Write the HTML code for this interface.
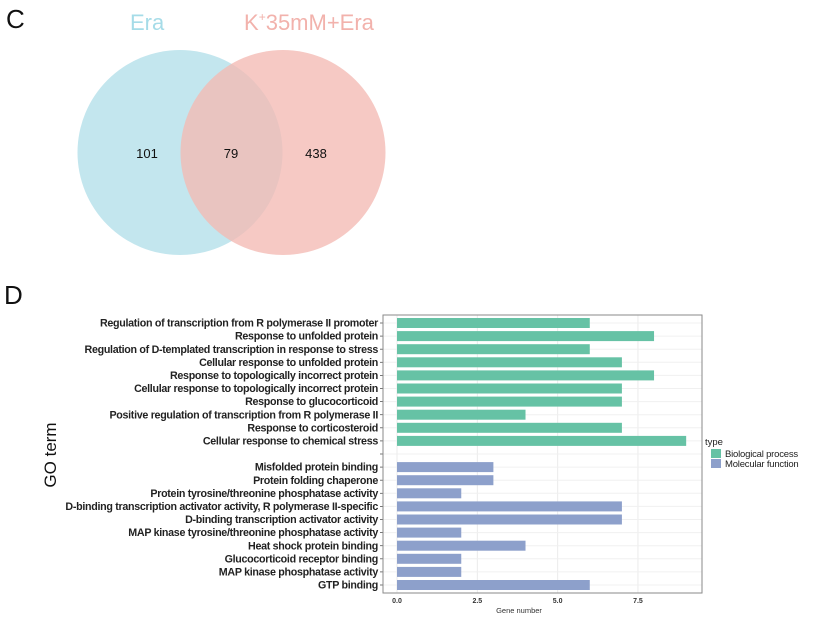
<!DOCTYPE html>
<html><head><meta charset="utf-8"><style>
html,body{margin:0;padding:0;background:#fff;}
svg{display:block;font-family:"Liberation Sans",Arial,sans-serif;}
</style></head><body>
<svg id="fig" width="814" height="619" viewBox="0 0 814 619" xmlns="http://www.w3.org/2000/svg">
  <g>
    <text x="6" y="28" font-size="26" fill="#111">C</text>
    <text x="130" y="30" font-size="22" fill="#a6dce8">Era</text>
    <text x="244" y="30" font-size="22" fill="#f2b2ac">K<tspan font-size="12" dy="-9">+</tspan><tspan dy="9">35mM+Era</tspan></text>
    <circle cx="180" cy="152.5" r="102.5" fill="#c3e6ee"/>
    <circle cx="283" cy="152.5" r="102.5" fill="#f4bab4" fill-opacity="0.78"/>
    <text x="147" y="158" font-size="13" text-anchor="middle" fill="#111">101</text>
    <text x="231" y="158" font-size="13" text-anchor="middle" fill="#111">79</text>
    <text x="316" y="158" font-size="13" text-anchor="middle" fill="#111">438</text>
  </g>
  <g>
    <text x="4" y="304" font-size="26" fill="#111">D</text>
    <text transform="translate(56,455) rotate(-90)" font-size="17" text-anchor="middle" fill="#111">GO term</text>
    <g id="plot"></g>
  </g>
</svg>
<script>
const bpTerms = ["Regulation of transcription from R polymerase II promoter","Response to unfolded protein","Regulation of D-templated transcription in response to stress","Cellular response to unfolded protein","Response to topologically incorrect protein","Cellular response to topologically incorrect protein","Response to glucocorticoid","Positive regulation of transcription from R polymerase II","Response to corticosteroid","Cellular response to chemical stress"];
const bpValues = [6,8,6,7,8,7,7,4,7,9];
const mfTerms = ["Misfolded protein binding","Protein folding chaperone","Protein tyrosine/threonine phosphatase activity","D-binding transcription activator activity, R polymerase II-specific","D-binding transcription activator activity","MAP kinase tyrosine/threonine phosphatase activity","Heat shock protein binding","Glucocorticoid receptor binding","MAP kinase phosphatase activity","GTP binding"];
const mfValues = [3,3,2,7,7,2,4,2,2,6];
const xTicks = [0,2.5,5,7.5];
const xTickLabels = ["0.0","2.5","5.0","7.5"];
const legendLabels = ["Biological process","Molecular function"];

const NS="http://www.w3.org/2000/svg";
const g=document.getElementById('plot');
const px0=383, px1=702, py0=315, py1=593;
const xs=v=>397+v*32.13;
const slotY=i=>323+i*13.1;
function mk(t,a,p){const e=document.createElementNS(NS,t);for(const k in a)e.setAttribute(k,a[k]);(p||g).appendChild(e);return e;}

mk('rect',{x:px0,y:py0,width:px1-px0,height:py1-py0,fill:'#fff'});
for(let i=0;i<xTicks.length;i++){
  const gl=mk('line',{x1:xs(xTicks[i]),x2:xs(xTicks[i]),y1:py0,y2:py1,stroke:'#ebebeb','stroke-width':1});
  
  
}
for(let i=0;i<21;i++){
  const gl=mk('line',{x1:px0,x2:px1,y1:slotY(i),y2:slotY(i),stroke:'#f0f0f0','stroke-width':1});
  
  
}
const rows=[];
bpTerms.forEach((t,i)=>rows.push({t,v:bpValues[i],c:'#66c2a5',slot:i}));
mfTerms.forEach((t,i)=>rows.push({t,v:mfValues[i],c:'#8da0cb',slot:i+11}));
rows.forEach((r,i)=>{
  const y=slotY(r.slot);
  const b=mk('rect',{x:xs(0),y:y-5,width:xs(r.v)-xs(0),height:10,fill:r.c});
  
  
  const tx=mk('text',{x:378,y:y+3.6,'font-size':10.7,'font-weight':'bold','text-anchor':'end',fill:'#222','letter-spacing':'-0.3'});
  tx.textContent=r.t;
  
  
});
for(let i=0;i<21;i++){
  const tk=mk('line',{x1:px0-3,x2:px0,y1:slotY(i),y2:slotY(i),stroke:'#555','stroke-width':0.8});
  
  
}
const fr=mk('rect',{x:px0,y:py0,width:px1-px0,height:py1-py0,fill:'none',stroke:'#8a8a8a','stroke-width':1});


for(let i=0;i<xTicks.length;i++){
  const tl=mk('text',{x:xs(xTicks[i]),y:603,'font-size':7,'font-weight':'bold','text-anchor':'middle',fill:'#333'});
  tl.textContent=xTickLabels[i];
  
  
}
const xt=mk('text',{x:519,y:613,'font-size':7.5,'text-anchor':'middle',fill:'#333'});
xt.textContent='Gene number';


const lt=mk('text',{x:705,y:445,'font-size':9.5,fill:'#222'});
lt.textContent='type';


const lc=['#66c2a5','#8da0cb'];
legendLabels.forEach((l,i)=>{
  const k=mk('rect',{x:711,y:449+i*10,width:10,height:9,fill:lc[i]});
  
  
  const t=mk('text',{x:725,y:457+i*10,'font-size':9.5,fill:'#222','letter-spacing':'-0.2'});
  t.textContent=l;
  
  
});
</script>
</body></html>
